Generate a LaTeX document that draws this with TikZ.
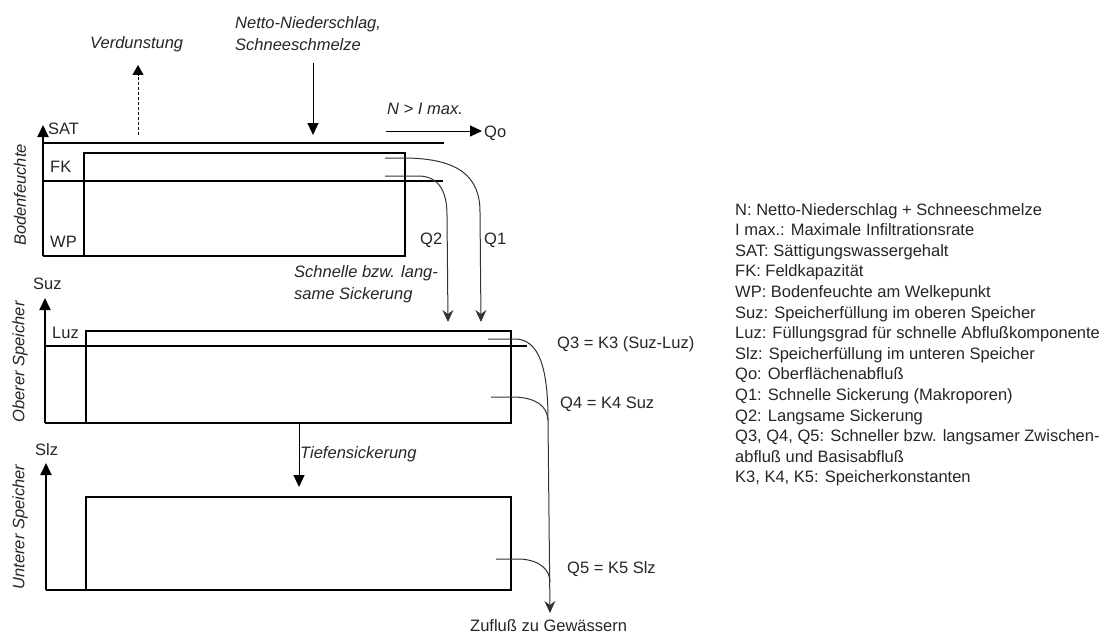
\documentclass[tikz,border=0pt]{standalone}
\usepackage{fontspec}
\setmainfont{Liberation Sans}
\usetikzlibrary{arrows.meta}
\begin{document}
\begin{tikzpicture}[x=1pt,y=-1pt,
  thk/.style={line width=2pt},
  thn/.style={line width=1pt, draw=black!80},
  ftip/.style={-{Triangle[length=12pt,width=11pt]}},
  vtip/.style={-{Stealth[length=12pt,width=11pt,inset=4pt]}},
  txt/.style={font=\fontsize{16.5}{20}\selectfont, inner sep=0pt, anchor=base west, text=black!85},
  itxt/.style={txt, font=\fontsize{16.5}{20}\selectfont\itshape},
  rtxt/.style={font=\fontsize{16.5}{20}\selectfont\itshape, inner sep=0pt, rotate=90, text=black!85}]
\useasboundingbox (0,0) rectangle (1109,634);
\fill[white] (0,0) rectangle (1109,634);

% ---------- coordinates ----------
\coordinate (ax1b) at (43,256);  \coordinate (ax1t) at (43,125);
\coordinate (ax2b) at (45,423);  \coordinate (ax2t) at (45,298);
\coordinate (ax3b) at (46,590);  \coordinate (ax3t) at (46,463);
\coordinate (satL) at (43,143);  \coordinate (satR) at (444,143);
\coordinate (fkL) at (43,181);   \coordinate (fkR) at (443,181);
\coordinate (luzL) at (45,346);  \coordinate (luzR) at (527,346);
\coordinate (verdA) at (138,135); \coordinate (verdB) at (138,65);
\coordinate (nettoA) at (313,63); \coordinate (nettoB) at (313,135);
\coordinate (qoA) at (386,131);  \coordinate (qoB) at (482,131);
\coordinate (q1s) at (385,158);  \coordinate (q1e) at (481,322);
\coordinate (q2s) at (385,176);  \coordinate (q2e) at (448,322);
\coordinate (q3s) at (488,339);  \coordinate (q4s) at (491,397);
\coordinate (join) at (548,420); \coordinate (outE) at (550,613);
\coordinate (q5s) at (496,559);  \coordinate (q5j) at (550,582);
\coordinate (tiefA) at (299,424); \coordinate (tiefB) at (299,487);

% ---------- Bodenfeuchte ----------
\draw[thk] (84,153) rectangle (405,256);
\draw[thk] (satL) -- (satR);
\draw[thk] (fkL) -- (fkR);
\draw[thk] (84,256) -- (ax1b);
\draw[thk,ftip] (ax1b) -- (ax1t);

% ---------- Oberer Speicher ----------
\draw[thk] (86,331) rectangle (511,423);
\draw[thk] (luzL) -- (luzR);
\draw[thk] (86,423) -- (ax2b);
\draw[thk,ftip] (ax2b) -- (ax2t);

% ---------- Unterer Speicher ----------
\draw[thk] (86,497) rectangle (511,590);
\draw[thk] (86,590) -- (ax3b);
\draw[thk,ftip] (ax3b) -- (ax3t);

% ---------- arrows ----------
\draw[line width=1pt, dash pattern=on 3pt off 2pt, -{Triangle[length=10pt,width=11pt]}] (verdA) -- (verdB);
\draw[line width=1pt, ftip] (nettoA) -- (nettoB);
\draw[line width=1pt, ftip] (qoA) -- (qoB);
\draw[line width=1pt, ftip] (tiefA) -- (tiefB);

% ---------- flow curves ----------
\draw[thn, vtip] (q1s) -- (407,158) .. controls (458,159) and (480,176) .. (480,212) -- (q1e);
\draw[thn, vtip] (q2s) -- (420,176) .. controls (438,177) and (447,190) .. (447,215) -- (q2e);
\draw[thn] (q3s) -- (517,339) .. controls (538,341) and (548,365) .. (join);
\draw[thn] (q4s) -- (515,397) .. controls (535,398) and (547,405) .. (join);
\draw[thn, vtip] (join) -- (outE);
\draw[thn] (q5s) -- (520,559) .. controls (540,560) and (550,570) .. (q5j);

% ---------- labels ----------
\node[itxt] (verd) at (90,49) {Verdunstung};
\node[itxt] (netto1) at (235,29) {Netto-Niederschlag,};
\node[itxt] (netto2) at (235,51) {Schneeschmelze};
\node[itxt] (nimax) at (387,114) {N > I max.};
\node[txt] (qo) at (484,137) {Qo};
\node[txt] (sat) at (48,134) {SAT};
\node[txt] (fk) at (50,172) {FK};
\node[txt] (wp) at (50,247) {WP};
\node[txt] (q2) at (420,244) {Q2};
\node[txt] (q1) at (484,244) {Q1};
\node[itxt] (sick1) at (294,277) {Schnelle bzw. lang-};
\node[itxt] (sick2) at (294,299) {same Sickerung};
\node[txt] (suz) at (33,289) {Suz};
\node[txt] (luz) at (52,338) {Luz};
\node[txt] (q3) at (557,348) {Q3 = K3 (Suz-Luz)};
\node[txt] (q4) at (560,408) {Q4 = K4 Suz};
\node[txt] (slz) at (35,455) {Slz};
\node[itxt] (tief) at (300,458) {Tiefensickerung};
\node[txt] (q5) at (567,573) {Q5 = K5 Slz};
\node[txt] (zufl) at (470,631) {Zufluß zu Gewässern};
\node[rtxt] (bodenf) at (20,195) {Bodenfeuchte};
\node[rtxt] (obsp) at (20,362) {Oberer Speicher};
\node[rtxt] (unsp) at (20,527) {Unterer Speicher};

% ---------- legend ----------
\foreach \t [count=\i] in {
  {N: Netto-Niederschlag + Schneeschmelze},
  {I max.: Maximale Infiltrationsrate},
  {SAT: Sättigungswassergehalt},
  {FK: Feldkapazität},
  {WP: Bodenfeuchte am Welkepunkt},
  {Suz: Speicherfüllung im oberen Speicher},
  {Luz: Füllungsgrad für schnelle Abflußkomponente},
  {Slz: Speicherfüllung im unteren Speicher},
  {Qo: Oberflächenabfluß},
  {Q1: Schnelle Sickerung (Makroporen)},
  {Q2: Langsame Sickerung},
  {Q3, Q4, Q5: Schneller bzw. langsamer Zwischen-},
  {abfluß und Basisabfluß},
  {K3, K4, K5: Speicherkonstanten}}
  \node[txt] (leg\i) at (735,{215+20.6*(\i-1)}) {\t};
\end{tikzpicture}
\end{document}
